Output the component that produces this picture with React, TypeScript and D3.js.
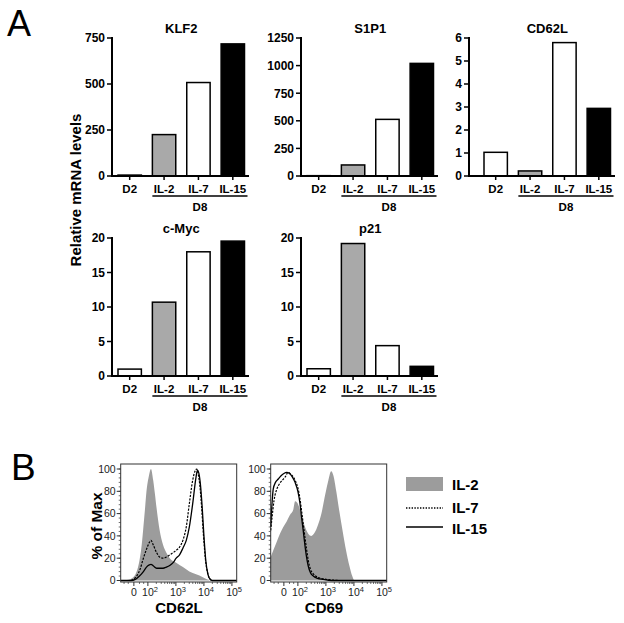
import React from "react";
import * as d3 from "d3";

const FONT = "'Liberation Sans', Arial, Helvetica, sans-serif";

// ---------- Panel A data ----------
const categories = ["D2", "IL-2", "IL-7", "IL-15"];
const barFills = ["#ffffff", "#a9a9a9", "#ffffff", "#000000"];
const groupLabel = "D8";

const klf2Values = [5, 225, 508, 718];
const s1p1Values = [3, 100, 513, 1020];
const cd62lValues = [1.03, 0.22, 5.8, 2.94];
const cMycValues = [1.0, 10.7, 18.0, 19.55];
const p21Values = [1.05, 19.2, 4.4, 1.4];

const klf2Ticks = [0, 250, 500, 750];
const s1p1Ticks = [0, 250, 500, 750, 1000, 1250];
const cd62lTicks = [0, 1, 2, 3, 4, 5, 6];
const cMycTicks = [0, 5, 10, 15, 20];
const p21Ticks = [0, 5, 10, 15, 20];

// ---------- Panel B data (x in display decades, y in % of max) ----------
const cd62lIL2: [number, number][] = [
  [1.03, 0], [1.25, 0.5], [1.48, 3], [1.6, 8], [1.7, 18], [1.78, 32], [1.84, 48], [1.9, 65],
  [1.95, 80], [2.03, 93], [2.11, 100], [2.19, 90], [2.25, 78], [2.31, 65], [2.42, 45],
  [2.54, 32], [2.66, 25], [2.78, 20], [3.01, 16], [3.25, 12], [3.48, 8], [3.72, 5.5],
  [3.96, 3], [4.13, 1], [4.25, 0], [5.17, 0],
];
const cd62lIL7: [number, number][] = [
  [1.03, 0], [1.35, 0], [1.48, 1], [1.6, 4], [1.72, 10], [1.84, 20], [1.95, 28], [2.05, 34],
  [2.11, 36], [2.19, 32], [2.31, 25], [2.42, 21], [2.54, 20], [2.66, 21], [2.78, 23],
  [2.9, 25], [3.01, 27], [3.13, 30], [3.25, 36], [3.37, 48], [3.48, 69], [3.6, 90],
  [3.68, 98], [3.74, 100], [3.8, 95], [3.86, 84], [3.92, 65], [3.98, 42], [4.05, 20],
  [4.13, 7], [4.2, 2], [4.3, 0], [5.17, 0],
];
const cd62lIL15: [number, number][] = [
  [1.03, 0], [1.4, 0], [1.55, 1], [1.7, 4], [1.84, 8], [1.95, 12], [2.05, 14], [2.11, 14.5],
  [2.2, 13], [2.31, 11], [2.42, 11], [2.54, 11], [2.66, 12], [2.78, 13.5], [2.9, 16],
  [3.01, 20], [3.13, 23], [3.25, 29], [3.37, 36], [3.48, 48], [3.6, 69], [3.72, 93],
  [3.77, 99], [3.82, 96], [3.88, 85], [3.94, 65], [4.0, 40], [4.07, 17], [4.14, 6],
  [4.21, 1.5], [4.3, 0], [5.17, 0],
];
const cd69IL2: [number, number][] = [
  [1.03, 21], [1.12, 27], [1.25, 35], [1.36, 42], [1.48, 48], [1.6, 53], [1.72, 59],
  [1.84, 64], [1.9, 71], [1.97, 70], [2.07, 64], [2.17, 55], [2.27, 47], [2.37, 42],
  [2.48, 40], [2.6, 43], [2.72, 50], [2.84, 60], [2.95, 74], [3.07, 88], [3.19, 98],
  [3.27, 94], [3.37, 80], [3.48, 62], [3.6, 44], [3.72, 27], [3.84, 13], [3.94, 4],
  [4.02, 0], [5.17, 0],
];
const cd69IL7: [number, number][] = [
  [1.03, 45], [1.08, 57], [1.15, 72], [1.25, 82], [1.35, 87], [1.45, 90], [1.55, 93],
  [1.65, 97], [1.72, 96], [1.8, 94], [1.9, 90], [2.0, 83], [2.07, 74], [2.13, 63],
  [2.19, 51], [2.25, 39], [2.31, 28], [2.37, 18], [2.45, 10], [2.55, 6], [2.7, 3],
  [2.9, 1.5], [3.2, 0.5], [3.5, 0], [5.17, 0],
];
const cd69IL15: [number, number][] = [
  [1.03, 48], [1.08, 70], [1.12, 82], [1.2, 88], [1.3, 91], [1.4, 94], [1.5, 96], [1.6, 97],
  [1.7, 96], [1.8, 93], [1.9, 88], [2.0, 80], [2.07, 70], [2.13, 57], [2.19, 45],
  [2.25, 32], [2.31, 21], [2.37, 13], [2.45, 7], [2.55, 4], [2.7, 2], [2.9, 1], [3.2, 0],
  [5.17, 0],
];

const flowYTicks = [0, 20, 40, 60, 80, 100];
const flowXTicks: { u: number; base: string; sup: string }[] = [
  { u: 1.5, base: "0", sup: "" },
  { u: 2, base: "10", sup: "2" },
  { u: 3, base: "10", sup: "3" },
  { u: 4, base: "10", sup: "4" },
  { u: 5, base: "10", sup: "5" },
];
const legendItems = ["IL-2", "IL-7", "IL-15"];

// ---------- layout ----------
type Layout = { axisX: number; bandStart: number; bandEnd: number; baseEnd: number; top: number; bottom: number };

function BarPanel({ title, values, ticks, L }: { title: string; values: number[]; ticks: number[]; L: Layout }) {
  const x = d3.scaleBand<string>().domain(categories).range([L.bandStart, L.bandEnd]).paddingInner(0.32).paddingOuter(0.16);
  const y = d3.scaleLinear().domain([0, ticks[ticks.length - 1]]).range([L.bottom, L.top]);
  const bw = x.bandwidth();
  const lineX0 = (x("IL-2") as number);
  const lineX1 = (x("IL-15") as number) + bw + 3;
  return (
    <g fontFamily={FONT} fontWeight="bold">
      <text x={(L.bandStart + L.bandEnd) / 2} y={L.top - 5} textAnchor="middle" fontSize={13}>{title}</text>
      {categories.map((c, i) => (
        <rect key={c} x={x(c)} y={y(values[i])} width={bw} height={L.bottom - y(values[i])}
          fill={barFills[i]} stroke="#000" strokeWidth={1.5} />
      ))}
      <line x1={L.axisX} x2={L.axisX} y1={L.top - 1} y2={L.bottom + 1} stroke="#000" strokeWidth={2} />
      <line x1={L.axisX - 1} x2={L.baseEnd} y1={L.bottom} y2={L.bottom} stroke="#000" strokeWidth={2} />
      {ticks.map((t) => (
        <g key={t}>
          <line x1={L.axisX - 5} x2={L.axisX} y1={y(t)} y2={y(t)} stroke="#000" strokeWidth={1.5} />
          <text x={L.axisX - 7} y={y(t)} dy="0.36em" textAnchor="end" fontSize={12}>{t}</text>
        </g>
      ))}
      {categories.map((c) => (
        <g key={c}>
          <line x1={(x(c) as number) + bw / 2} x2={(x(c) as number) + bw / 2} y1={L.bottom} y2={L.bottom + 4} stroke="#000" strokeWidth={1.5} />
          <text x={(x(c) as number) + bw / 2} y={L.bottom + 16.5} textAnchor="middle" fontSize={11.5}>{c}</text>
        </g>
      ))}
      <line x1={lineX0} x2={lineX1} y1={L.bottom + 20} y2={L.bottom + 20} stroke="#000" strokeWidth={1.5} />
      <text x={(lineX0 + lineX1) / 2} y={L.bottom + 35} textAnchor="middle" fontSize={11.5}>{groupLabel}</text>
    </g>
  );
}

const FLOW_W = 116;
const FLOW_TOP = 464;
const FLOW_BOTTOM = 582;

function FlowPanel({ left, fill, dashed, solid, xLabel, xLabelX }: {
  left: number; fill: [number, number][]; dashed: [number, number][]; solid: [number, number][]; xLabel: string; xLabelX: number;
}) {
  const x = d3.scaleLinear().domain([1.03, 5.17]).range([left, left + FLOW_W]);
  const y = d3.scaleLinear().domain([0, 100]).range([580.5, 469]);
  const area = d3.area<[number, number]>().x((d) => x(d[0])).y0(y(0)).y1((d) => y(d[1])).curve(d3.curveMonotoneX);
  const line = d3.line<[number, number]>().x((d) => x(d[0])).y((d) => y(d[1])).curve(d3.curveMonotoneX);
  const minorX: number[] = [];
  for (let dd = 2; dd <= 4; dd++) for (let k = 2; k <= 9; k++) minorX.push(dd + Math.log10(k));
  minorX.push(1.15, 1.3, 1.7, 1.85, 5 + Math.log10(2), 5 + Math.log10(3));
  const minorY = d3.range(0, 101, 4);
  return (
    <g fontFamily={FONT}>
      <path d={area(fill) || ""} fill="#9c9c9c" />
      <path d={line(dashed) || ""} fill="none" stroke="#000" strokeWidth={1.2} strokeDasharray="2.2,1.3" />
      <path d={line(solid) || ""} fill="none" stroke="#000" strokeWidth={1.3} />
      <rect x={left} y={FLOW_TOP} width={FLOW_W} height={FLOW_BOTTOM - FLOW_TOP} fill="none" stroke="#333" strokeWidth={1} />
      {minorY.map((t) => (
        <line key={"my" + t} x1={left - 2} x2={left} y1={y(t)} y2={y(t)} stroke="#333" strokeWidth={0.7} />
      ))}
      {flowYTicks.map((t) => (
        <g key={t}>
          <line x1={left - 4} x2={left} y1={y(t)} y2={y(t)} stroke="#333" strokeWidth={1} />
          <text x={left - 5} y={y(t)} dy="0.36em" textAnchor="end" fontSize={10.5} fill="#222">{t}</text>
        </g>
      ))}
      {minorX.filter((u) => u <= 5.17).map((u, i) => (
        <line key={"mx" + i} x1={x(u)} x2={x(u)} y1={FLOW_BOTTOM} y2={FLOW_BOTTOM + 2} stroke="#333" strokeWidth={0.7} />
      ))}
      {flowXTicks.map((t) => (
        <g key={t.u}>
          <line x1={x(t.u)} x2={x(t.u)} y1={FLOW_BOTTOM} y2={FLOW_BOTTOM + 4} stroke="#333" strokeWidth={1} />
          {t.sup ? (
            <text x={x(t.u) - 5.8} y={596} fontSize={10.5} fill="#222">
              {t.base}
              <tspan dy={-4.5} fontSize={7.5}>{t.sup}</tspan>
            </text>
          ) : (
            <text x={x(t.u)} y={596} textAnchor="middle" fontSize={10.5} fill="#222">{t.base}</text>
          )}
        </g>
      ))}
      <text x={xLabelX} y={613} textAnchor="middle" fontSize={15} fontWeight="bold">{xLabel}</text>
    </g>
  );
}

export default function App() {
  const topRow = { top: 38, bottom: 176 };
  const botRow = { top: 238, bottom: 376 };
  const col1 = { axisX: 112, bandStart: 112.5, bandEnd: 250, baseEnd: 249 };
  const col2 = { axisX: 301, bandStart: 301.5, bandEnd: 439, baseEnd: 438 };
  const col3 = { axisX: 469, bandStart: 478.5, bandEnd: 616, baseEnd: 615 };
  return (
    <svg width={624} height={623} style={{ position: "absolute", left: 0, top: 0, background: "#fff" }}>
      <rect x={0} y={0} width={624} height={623} fill="#fff" />
      <text x={7} y={36} fontFamily={FONT} fontSize={36}>A</text>
      <text x={11} y={480} fontFamily={FONT} fontSize={37}>B</text>
      <text transform="translate(81,190) rotate(-90)" textAnchor="middle" fontFamily={FONT} fontSize={15} fontWeight="bold">Relative mRNA levels</text>

      <BarPanel title="KLF2" values={klf2Values} ticks={klf2Ticks} L={{ ...col1, ...topRow }} />
      <BarPanel title="S1P1" values={s1p1Values} ticks={s1p1Ticks} L={{ ...col2, ...topRow }} />
      <BarPanel title="CD62L" values={cd62lValues} ticks={cd62lTicks} L={{ ...col3, ...topRow }} />
      <BarPanel title="c-Myc" values={cMycValues} ticks={cMycTicks} L={{ ...col1, ...botRow }} />
      <BarPanel title="p21" values={p21Values} ticks={p21Ticks} L={{ ...col2, ...botRow }} />

      <text transform="translate(101.5,526) rotate(-90)" textAnchor="middle" fontFamily={FONT} fontSize={15.5} fontWeight="bold">% of Max</text>
      <FlowPanel left={120.7} fill={cd62lIL2} dashed={cd62lIL7} solid={cd62lIL15} xLabel="CD62L" xLabelX={179} />
      <FlowPanel left={270.7} fill={cd69IL2} dashed={cd69IL7} solid={cd69IL15} xLabel="CD69" xLabelX={324} />

      <g fontFamily={FONT} fontWeight="bold" fontSize={15}>
        <rect x={406} y={477} width={37} height={14} fill="#9c9c9c" />
        <text x={452} y={490}>{legendItems[0]}</text>
        <line x1={406} x2={443} y1={508} y2={508} stroke="#000" strokeWidth={1.3} strokeDasharray="1.4,1.4" />
        <text x={452} y={513}>{legendItems[1]}</text>
        <line x1={406} x2={443} y1={527} y2={527} stroke="#000" strokeWidth={1.6} />
        <text x={452} y={534}>{legendItems[2]}</text>
      </g>
    </svg>
  );
}
